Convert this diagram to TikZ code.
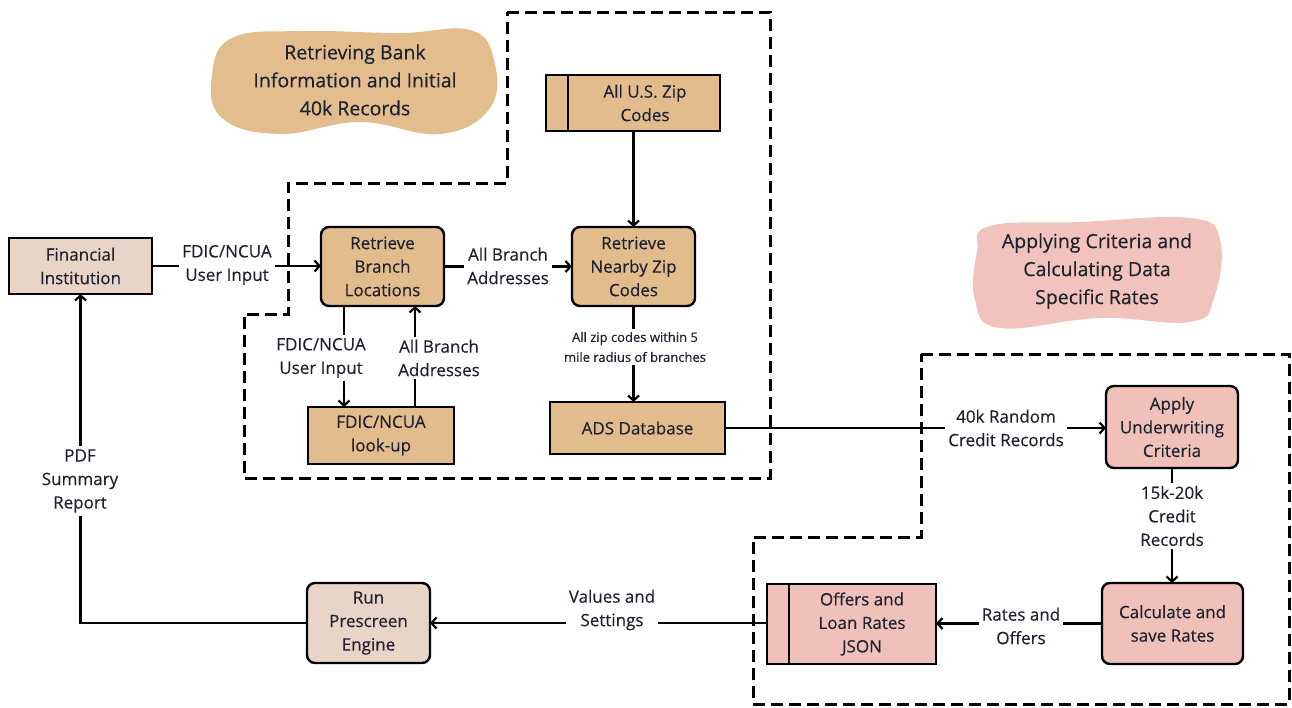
\documentclass[tikz,border=0pt]{standalone}
\usepackage{fontspec}
\setmainfont{Open Sans}[FakeBold=0.3,AutoFakeBold=0.3]
\usetikzlibrary{arrows.meta}
\definecolor{tanc}{HTML}{E3BC8E}
\definecolor{beigec}{HTML}{E9D4C8}
\definecolor{pinkc}{HTML}{F0C1B9}
\definecolor{tanblob}{HTML}{E4BD8F}
\definecolor{pinkblob}{HTML}{F2C3BC}
\definecolor{txtc}{HTML}{1E2230}
\newcommand{\fsBox}{\fontsize{17}{23.5}\selectfont\addfontfeature{FakeBold=0.3}}
\newcommand{\fsBlob}{\fontsize{19.5}{28}\selectfont\addfontfeature{FakeBold=0.3}}
\newcommand{\fsSmall}{\fontsize{13}{20}\selectfont\addfontfeature{FakeBold=0.3}}
\begin{document}
\begin{tikzpicture}[x=1pt,y=-1pt,
  box/.style={draw=black, line width=2.4pt, align=center, font=\fsBox, text=txtc, inner sep=1pt, outer sep=0pt},
  rbox/.style={box, rounded corners=8pt},
  tanf/.style={fill=tanc},
  beigef/.style={fill=beigec},
  pinkf/.style={fill=pinkc},
  lbl/.style={fill=white, align=center, font=\fsBox, text=txtc, inner sep=3pt},
  arr/.style={line width=2.3pt, -{Straight Barb[length=5pt,width=11pt,line width=2.2pt]}},
  dashline/.style={line width=3pt, dash pattern=on 12pt off 6pt},
  blobtext/.style={align=center, font=\fsBlob, text=txtc}]
\useasboundingbox (0,0) rectangle (1292,707);

% blobs
\fill[tanblob] plot[smooth cycle, tension=0.7] coordinates {(232,38) (300,31) (400,33) (470,30) (494,60) (490,108) (440,134) (360,122) (280,134) (222,118) (212,75)};
\node[blobtext] (blobA) at (355,80) {Retrieving Bank\\Information and Initial\\40k Records};
\fill[pinkblob] plot[smooth cycle, tension=0.7] coordinates {(990,226) (1080,222) (1190,218) (1220,240) (1214,298) (1190,322) (1100,318) (1000,328) (975,300) (977,252)};
\node[blobtext] (blobB) at (1097,271) {Applying Criteria and\\Calculating Data\\Specific Rates};

% dashed groups
\draw[dashline] (507,12) -- (770,12) -- (770,478) -- (244,478) -- (244,314) -- (288,314) -- (288,183) -- (507,183) -- cycle;
\draw[dashline] (921,354) -- (1289,354) -- (1289,704) -- (753,704) -- (753,537) -- (921,537) -- cycle;

% boxes
\node[box, beigef, minimum width=143, minimum height=56] (fin) at (80.5,266) {Financial\\Institution};
\node[rbox, tanf, minimum width=123, minimum height=79] (rbl) at (382.5,266.5) {Retrieve\\Branch\\Locations};
\node[rbox, tanf, minimum width=123, minimum height=79] (rnz) at (633.5,266.5) {Retrieve\\Nearby Zip\\Codes};
\node[box, tanf, minimum width=174, minimum height=56] (zip) at (633,103) {};
\draw[line width=2.4pt] ([xshift=22pt]zip.north west) -- ([xshift=22pt]zip.south west);
\node[align=center, font=\fsBox, text=txtc] (zipt) at (645,103) {All U.S. Zip\\Codes};
\node[box, tanf, minimum width=146, minimum height=57] (look) at (381,435.5) {FDIC/NCUA\\look-up};
\node[box, tanf, minimum width=175, minimum height=52] (ads) at (637.5,428) {ADS Database};
\node[rbox, pinkf, minimum width=132, minimum height=82] (apply) at (1172,427) {Apply\\Underwriting\\Criteria};
\node[rbox, pinkf, minimum width=141, minimum height=81] (calc) at (1172.5,623.5) {Calculate and\\save Rates};
\node[box, pinkf, minimum width=169, minimum height=80] (offers) at (851.5,624) {};
\draw[line width=2.4pt] ([xshift=22pt]offers.north west) -- ([xshift=22pt]offers.south west);
\node[align=center, font=\fsBox, text=txtc] (offerst) at (862,624) {Offers and\\Loan Rates\\JSON};
\node[rbox, beigef, minimum width=123, minimum height=80] (run) at (368.5,623) {Run\\Prescreen\\Engine};

% connectors
\draw[arr] (fin.east) -- (rbl.west |- fin.east);
\draw[arr] (rbl.east) -- (rnz.west);
\draw[arr] (zip.south -| rnz.north) -- (rnz.north);
\draw[arr] (rnz.south) -- (ads.north -| rnz.south);
\draw[arr] ([xshift=-38.5pt]rbl.south) -- ([xshift=-38.5pt]rbl.south |- look.north);
\draw[arr] ([xshift=32.5pt]rbl.south |- look.north) -- ([xshift=32.5pt]rbl.south);
\draw[arr] (ads.east) -- (apply.west |- ads.east);
\draw[arr] (apply.south) -- (calc.north -| apply.south);
\draw[arr] (calc.west) -- (offers.east |- calc.west);
\draw[arr] (offers.west |- run.east) -- (run.east);
\draw[arr] (run.west) -| (fin.south);

% labels
\node[lbl] (l1) at (227,265) {FDIC/NCUA\\User Input};
\node[lbl] (l2) at (508,266) {All Branch\\Addresses};
\node[lbl, font=\fsSmall] (l3) at (635,347) {All zip codes within 5\\mile radius of branches};
\node[lbl] (l4) at (321,358) {FDIC/NCUA\\User Input};
\node[lbl] (l5) at (439,358) {All Branch\\Addresses};
\node[lbl] (l6) at (1006,428) {40k Random\\Credit Records};
\node[lbl] (l7) at (1172,516) {15k-20k\\Credit\\Records};
\node[lbl] (l8) at (1021,626) {Rates and\\Offers};
\node[lbl] (l9) at (612,610) {Values and\\Settings};
\node[lbl] (l10) at (80,481) {PDF\\Summary\\Report};
\end{tikzpicture}
\end{document}
